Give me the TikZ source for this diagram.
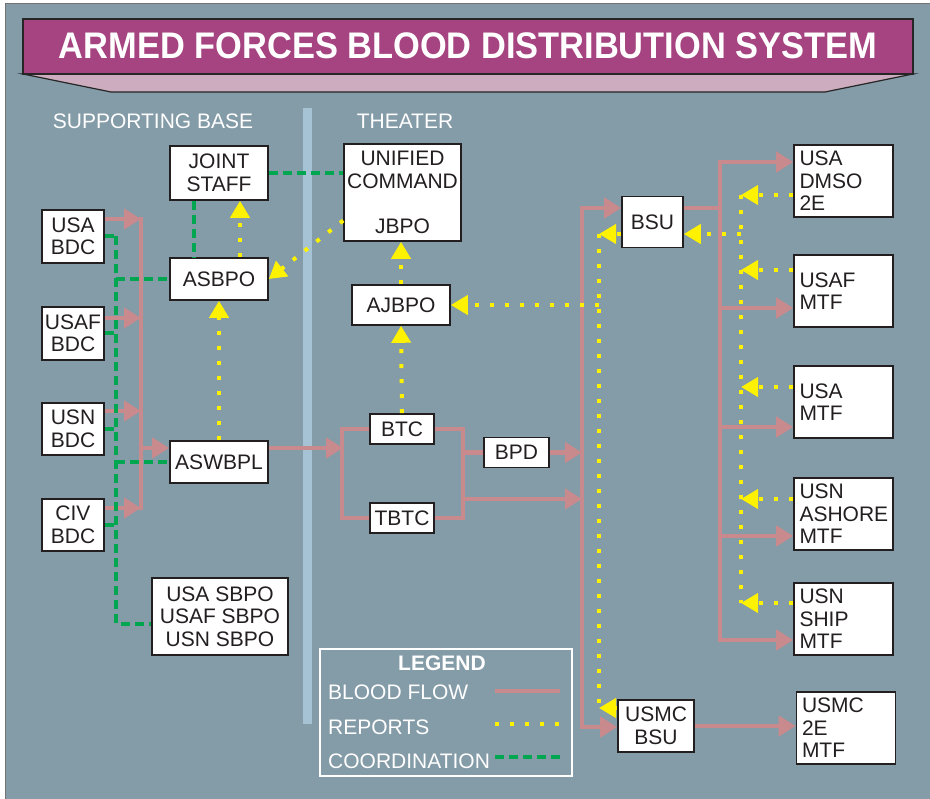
\documentclass[tikz,border=0pt]{standalone}
\usepackage{fontspec}
\setmainfont{Liberation Sans}
\usetikzlibrary{positioning, arrows.meta, calc}
\definecolor{backgroundcol}{HTML}{849BA8}
\definecolor{bannercol}{HTML}{A54480}
\definecolor{bannerlowcol}{HTML}{CCACBE}
\definecolor{dividercol}{HTML}{A6C3D5}
\definecolor{bloodcol}{HTML}{C98A8E}
\definecolor{reportcol}{HTML}{FFF200}
\definecolor{coordcol}{HTML}{00A650}
\definecolor{inkcol}{HTML}{231F20}
\newcommand{\boxfont}{\fontsize{21}{22.5}\selectfont}

\begin{document}
\begin{tikzpicture}[x=1pt, y=-1pt,
  every node/.style={inner sep=0pt, align=center},
  unitbox/.style={draw=inkcol, line width=1.6pt, fill=white, text=inkcol, font=\boxfont},
  mtfbox/.style={unitbox, minimum width=99pt, minimum height=72pt, text width=88pt, align=left},
  heading/.style={text=white, font=\boxfont},
  flow/.style={draw=bloodcol, line width=4.3pt},
  report/.style={draw=reportcol, line width=4pt, dash pattern=on 4pt off 11pt},
  coordline/.style={draw=coordcol, line width=4pt, dash pattern=on 9pt off 5pt},
  flowtip/.tip={Triangle[length=17pt, width=20pt]},
  reporttip/.tip={Triangle[length=17pt, width=19pt]}
]
\useasboundingbox (0,0) rectangle (930,799);
\fill[white] (0,0) rectangle (930,799);
\fill[backgroundcol, draw=black!55, line width=1pt] (5,4) rectangle (932,801);

% Banner
\filldraw[fill=bannerlowcol, draw=black!85, line width=1.2pt] (23,74) -- (111,92) -- (825,92) -- (913,74) -- cycle;
\filldraw[fill=bannercol, draw=black!85, line width=1.2pt] (23,19) rectangle (913,74);
\node[text=white, font=\fontsize{37}{40}\selectfont\bfseries] (title) at (468,46)
  {\scalebox{0.93}[1]{ARMED FORCES BLOOD DISTRIBUTION SYSTEM}};

% Divider and headings
\fill[dividercol] (303,108) rectangle (312,724);
\node[heading] (basehead) at (153,121) {SUPPORTING BASE};
\node[heading] (theaterhead) at (405,121) {THEATER};

% Supporting base
\node[unitbox, minimum width=98pt, minimum height=54pt] (jointstaff) at (219,173) {JOINT\\STAFF};
\node[unitbox, minimum width=98pt, minimum height=42pt] (asbpo) at (219,279) {ASBPO};
\node[unitbox, minimum width=98pt, minimum height=42pt] (aswbpl) at (219,462) {ASWBPL};
\node[unitbox, minimum width=62pt, minimum height=53pt] (usabdc) at (73,236.5) {USA\\BDC};
\node[unitbox, minimum width=62pt, minimum height=53pt] (usafbdc) at (73,333.5) {USAF\\BDC};
\node[unitbox, minimum width=62pt, minimum height=52pt] (usnbdc) at (73,429) {USN\\BDC};
\node[unitbox, minimum width=62pt, minimum height=52pt] (civbdc) at (73,525) {CIV\\BDC};
\node[unitbox, minimum width=136pt, minimum height=77pt] (sbpo) at (220,616.5) {USA SBPO\\USAF SBPO\\USN SBPO};

% Theater
\node[unitbox, minimum width=117pt, minimum height=97pt] (unified) at (402.5,192.5) {UNIFIED\\COMMAND\\[22.5pt]JBPO};
\node[unitbox, minimum width=98pt, minimum height=40pt] (ajbpo) at (401,305) {AJBPO};
\node[unitbox, minimum width=64pt, minimum height=30pt] (btc) at (402,429) {BTC};
\node[unitbox, minimum width=64pt, minimum height=30pt] (tbtc) at (402,518) {TBTC};
\node[unitbox, minimum width=65pt, minimum height=30pt] (bpd) at (516.5,452.5) {BPD};
\node[unitbox, minimum width=61pt, minimum height=51pt] (bsu) at (652.5,222) {BSU};
\node[unitbox, minimum width=76pt, minimum height=52pt] (usmcbsu) at (656,726) {USMC\\BSU};
\node[mtfbox] (usadmso) at (843.5,181) {USA\\DMSO\\2E};
\node[mtfbox] (usafmtf) at (843.5,291) {USAF\\MTF};
\node[mtfbox] (usamtf) at (843.5,402) {USA\\MTF};
\node[mtfbox] (usnashore) at (843.5,514) {USN\\ASHORE\\MTF};
\node[mtfbox] (usnship) at (843.5,619) {USN\\SHIP\\MTF};
\node[mtfbox] (usmcmtf) at (846,728) {USMC\\2E\\MTF};

% Blood flow
\coordinate (lbus1) at (141,219);
\coordinate (lbus2) at (141,318);
\coordinate (lbus3) at (141,411);
\coordinate (lbus4) at (141,508);
\coordinate (lbusout) at (141,448);
\draw[flow, line cap=rect] (lbus1) -- (lbus4);
\foreach \src/\bus in {usabdc/lbus1, usafbdc/lbus2, usnbdc/lbus3, civbdc/lbus4}
  \draw[flow, -flowtip] (\src.east |- \bus) -- (\bus);
\draw[flow, -flowtip] (lbusout) -- (aswbpl.west |- lbusout);

\coordinate (tbusin) at (343,448);
\draw[flow, -flowtip] (aswbpl.east |- tbusin) -- (tbusin);
\draw[flow] (btc.west) -- ++(-27,0) |- (tbtc.west);
\draw[flow] (btc.east) -- ++(28,0) |- (tbtc.east);
\draw[flow] (bpd.west) -- ++(-21,0);
\coordinate (mbustop) at (582,208);
\coordinate (mbusbot) at (582,727);
\coordinate (tbtcout) at (462,499);
\draw[flow, -flowtip] (bpd.east) -- (bpd.east -| mbustop);
\draw[flow, -flowtip] (tbtcout) -- (tbtcout -| mbustop);
\draw[flow, flowtip-flowtip] (bsu.west |- mbustop) -- (mbustop) -- (mbusbot) -- (usmcbsu.west |- mbusbot);

\coordinate (mtfbus) at (720,208);
\draw[flow] (bsu.east |- mtfbus) -- (mtfbus);
\foreach \dst/\yy in {usadmso/162, usafmtf/308, usamtf/427, usnashore/536, usnship/640}{
  \coordinate (tap-\dst) at (720,\yy);
  \draw[flow, -flowtip] (tap-\dst) -- (\dst.west |- tap-\dst);
}
\draw[flow, line cap=rect] (tap-usadmso) -- (tap-usnship);
\draw[flow, -flowtip] (usmcbsu.east) -- (usmcmtf.west |- usmcbsu.east);

% Reports
\draw[report, -reporttip] (aswbpl.north) -- (asbpo.south);
\draw[report, -reporttip] ([xshift=21pt]asbpo.north) -- ([xshift=21pt]jointstaff.south);
\draw[report, -reporttip] ([yshift=-28pt]unified.west) -- (asbpo.east);
\draw[report, -reporttip] (btc.north) -- (ajbpo.south);
\draw[report, -reporttip] (ajbpo.north) -- (ajbpo.north |- unified.south);

\coordinate (ybustop) at (599,234);
\coordinate (ybusbot) at (599,708);
\draw[report] (ybustop) -- (ybusbot);
\draw[report, -reporttip] (bsu.west |- ybustop) -- (ybustop);
\draw[report, -reporttip] (usmcbsu.west |- ybusbot) -- (ybusbot);
\draw[report, -reporttip] (ajbpo.east -| ybustop) -- (ajbpo.east);

\foreach \src/\yy in {usadmso/195, usafmtf/270, usamtf/387, usnashore/499, usnship/603}{
  \coordinate (rep-\src) at (741,\yy);
  \draw[report, -reporttip] (\src.west |- rep-\src) -- (rep-\src);
}
\draw[report] (rep-usadmso) -- (rep-usnship);
\coordinate (repbsu) at (741,234);
\draw[report, -reporttip] (repbsu) -- (bsu.east |- repbsu);

% Coordination
\draw[coordline] (jointstaff.east) -- (unified.west |- jointstaff.east);
\draw[coordline] ([xshift=-25pt]jointstaff.south) -- ([xshift=-25pt]asbpo.north);
\coordinate (cbus) at (116,238);
\foreach \src in {usabdc, usafbdc, usnbdc, civbdc}
  \draw[coordline] (\src.east) -- (\src.east -| cbus);
\foreach \dst in {asbpo, aswbpl}
  \draw[coordline] (cbus |- \dst.west) -- (\dst.west);
\draw[coordline] (usabdc.east -| cbus) |- ([yshift=-7pt]sbpo.west);

% Legend
\node[draw=white, line width=1.5pt, minimum width=252pt, minimum height=127pt] (legend) at (446,712.5) {};
\node[text=white, font=\boxfont\bfseries] (legendtitle) at (442,663) {LEGEND};
\node[heading, anchor=west] (flowkey) at (328,692) {BLOOD FLOW};
\node[heading, anchor=west] (reportkey) at (328,727) {REPORTS};
\node[heading, anchor=west] (coordkey) at (328,761) {COORDINATION};
\draw[flow] (495,691) -- (560,691);
\draw[report] (495,724) -- (560,724);
\draw[coordline] (495,757) -- (560,757);
\end{tikzpicture}
\end{document}
